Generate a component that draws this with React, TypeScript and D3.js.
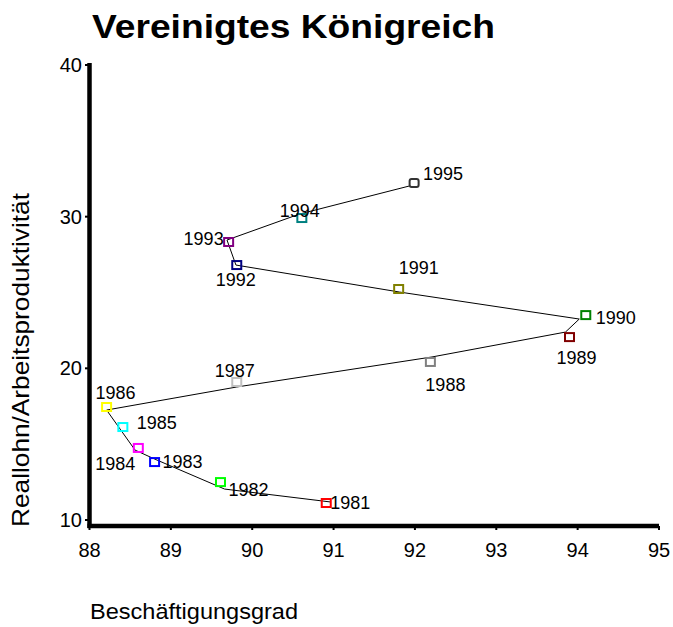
import React from "react";
import * as d3 from "d3";

const years = [1981, 1982, 1983, 1984, 1985, 1986, 1987, 1988, 1989, 1990, 1991, 1992, 1993, 1994, 1995];
// marker values
const employment = [90.91, 89.61, 88.80, 88.60, 88.41, 88.21, 89.81, 92.19, 93.90, 94.10, 91.80, 89.81, 89.71, 90.61, 91.99];
const wageRatio = [11.12, 12.50, 13.82, 14.75, 16.13, 17.45, 19.10, 20.42, 22.06, 23.51, 25.23, 26.81, 28.33, 29.91, 32.22];
// connecting line values
const lineEmployment = [90.96, 89.66, 88.80, 88.56, 88.41, 88.21, 89.81, 92.21, 93.85, 94.02, 91.81, 89.80, 89.69, 90.58, 91.93];
const lineWageRatio = [11.19, 12.04, 14.02, 14.61, 15.74, 17.25, 18.77, 20.75, 22.39, 23.25, 25.03, 26.81, 28.46, 30.17, 32.02];
const markerColors = ["#FF0000", "#00FF00", "#0000FF", "#FF00FF", "#00FFFF", "#FFFF00", "#C0C0C0", "#808080", "#800000", "#008000", "#808000", "#000080", "#800080", "#008080", "#333333"];
const xTicks = [88, 89, 90, 91, 92, 93, 94, 95];
const yTicks = [10, 20, 30, 40];
// label offsets (layout)
const labelOffsets: [number, number][] = [
  [24, 0], [28, 8], [28, 0], [-23, 16], [34, -4], [9, -14], [-2, -11], [15, 23],
  [7, 21], [30, 3], [20, -21], [-1, 15], [-25, -3], [-2, -7], [29, -9],
];

const W = 673, H = 627;
const x = d3.scaleLinear().domain([88, 95]).range([89.5, 659]);
const y = d3.scaleLinear().domain([10, 40]).range([520, 65]);
const font = "Arial, 'Liberation Sans', sans-serif";

export default function App() {
  const line = d3.line<number>().x((_, i) => x(lineEmployment[i])).y((_, i) => y(lineWageRatio[i]));
  const idx = years.map((_, i) => i);
  const axisY = y(10) + 6;
  return (
    <svg width={W} height={H} style={{ position: "absolute", left: 0, top: 0, background: "#fff" }} fontFamily={font}>
      <text x={92} y={38} fontSize={34} fontWeight="bold" textLength={403} lengthAdjust="spacingAndGlyphs">Vereinigtes Königreich</text>
      {/* axes */}
      <line x1={89.5} x2={89.5} y1={y(40) - 2} y2={axisY + 2} stroke="#000" strokeWidth={4.5} />
      <line x1={87.5} x2={x(95)} y1={axisY} y2={axisY} stroke="#000" strokeWidth={4.5} />
      {yTicks.map((t) => (
        <g key={t}>
          <line x1={85} x2={89} y1={y(t)} y2={y(t)} stroke="#000" strokeWidth={2} />
          <text x={82} y={y(t)} fontSize={20} textAnchor="end" dominantBaseline="central">{t}</text>
        </g>
      ))}
      {xTicks.map((t) => (
        <g key={t}>
          <line x1={x(t)} x2={x(t)} y1={axisY} y2={axisY + 4} stroke="#000" strokeWidth={2} />
          <text x={x(t)} y={550} fontSize={20} textAnchor="middle" dominantBaseline="central">{t}</text>
        </g>
      ))}
      <path d={line(idx) || ""} fill="none" stroke="#000" strokeWidth={1} />
      {idx.map((i) => (
        <rect key={years[i]} x={x(employment[i]) - 4.5} y={y(wageRatio[i]) - 4} width={9} height={8}
          rx={i === 14 ? 2 : 0}
          fill="none" stroke={markerColors[i]} strokeWidth={2} />
      ))}
      {idx.map((i) => (
        <text key={"l" + years[i]} x={x(employment[i]) + labelOffsets[i][0]} y={y(wageRatio[i]) + labelOffsets[i][1]}
          fontSize={18} textAnchor="middle" dominantBaseline="central">{years[i]}</text>
      ))}
      <text transform={`translate(29,360) rotate(-90)`} fontSize={24} textAnchor="middle" textLength={334} lengthAdjust="spacingAndGlyphs">Reallohn/Arbeitsproduktivität</text>
      <text x={90} y={619} fontSize={22} textLength={208} lengthAdjust="spacingAndGlyphs">Beschäftigungsgrad</text>
    </svg>
  );
}
